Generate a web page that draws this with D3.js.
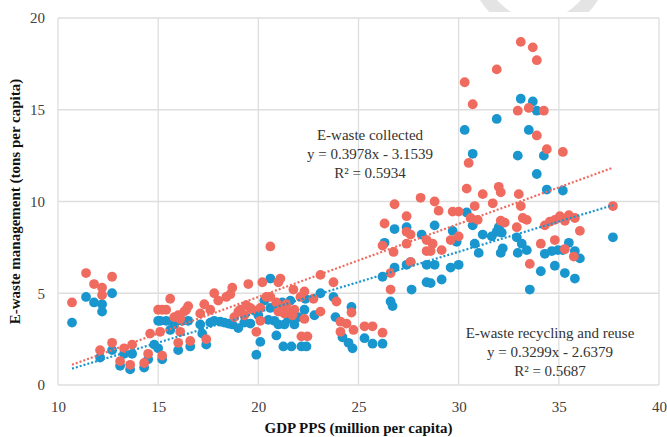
<!DOCTYPE html>
<html>
<head>
<meta charset="utf-8">
<script src="https://cdn.jsdelivr.net/npm/d3@7"></script>
<style>
  body { margin: 0; background: #fff; }
  svg { display: block; }
  svg text { font-family: "Liberation Serif", "Times New Roman", "DejaVu Serif", serif; }
</style>
</head>
<body>
<svg id="chart" width="667" height="437"></svg>
<script>
// GDP PPS (million per capita) vs e-waste (tons per capita)
const collected = [
  [10.7,4.5],[11.4,6.1],[11.8,5.5],[12.2,5.3],[12.2,4.9],[12.7,5.9],[12.1,1.9],[12.7,2.3],[13.1,1.3],[13.3,2.0],[13.6,1.1],[13.7,2.2],
  [14.3,1.2],[14.5,1.7],[14.6,2.8],[15.1,2.9],[15.2,1.6],[15.0,4.1],[15.2,4.1],[15.4,4.1],[15.6,4.7],[15.8,3.7],[16.0,3.8],[16.1,3.6],
  [16.3,4.0],[16.4,4.1],[16.5,4.3],[16.1,2.9],[16.0,2.3],[16.6,2.4],[17.1,3.9],[17.3,4.4],[17.4,2.5],[17.6,4.1],
  [17.8,5.0],[18.0,4.6],[18.4,4.8],[18.6,4.95],[18.7,5.3],[18.8,3.7],[19.0,4.0],[19.1,4.1],[19.3,3.8],[19.4,4.35],[19.5,5.5],[19.7,4.1],
  [19.6,4.2],[19.9,2.9],[20.1,3.5],[20.1,4.2],[20.2,5.6],[20.4,4.8],[20.6,7.55],[20.6,4.8],
  [20.9,4.5],[21.0,5.6],[21.1,5.8],[21.0,4.0],[21.2,4.2],[21.3,3.9],[21.4,4.4],[21.5,4.0],[21.7,3.8],[21.8,4.1],[21.75,5.2],[22.1,4.8],
  [22.15,2.65],[22.45,2.65],[22.3,3.6],[22.3,5.1],
  [22.75,4.7],[23.1,6.0],[23.1,4.0],[23.75,5.6],[23.9,4.55],[24.1,3.45],[24.4,3.35],[24.1,2.9],[24.65,3.95],[24.75,3.0],[25.3,3.2],[25.7,3.2],[26.2,2.85],
  [26.2,7.6],[26.3,8.8],[26.6,6.1],[26.6,5.2],[26.8,9.85],[26.75,7.25],[27.4,9.2],[27.4,8.35],[27.4,7.7],[27.6,8.2],[27.6,6.7],[28.1,10.2],
  [28.4,7.9],[28.4,7.3],[28.6,7.3],[28.7,7.7],[28.8,10.0],[29.0,9.5],[29.15,7.35],[29.6,7.9],[29.7,9.45],[30.0,9.45],[30.0,8.1],
  [30.3,16.5],[30.7,15.3],[30.5,12.1],[30.4,10.7],[30.6,9.1],[30.8,9.75],[30.95,9.0],[31.2,10.4],[31.7,9.9],[31.9,17.2],[32.0,10.8],[32.1,10.5],
  [32.1,8.95],[32.3,8.85],
  [33.1,18.7],[33.7,18.4],[33.9,17.7],[32.95,14.95],[33.5,15.1],[34.25,14.95],[33.9,13.6],[34.4,12.85],[35.2,12.7],[33.0,10.4],[33.1,9.75],
  [32.9,8.6],[33.2,9.1],[33.4,9.0],[33.55,6.6],[34.1,7.7],[34.3,8.7],[34.55,8.9],[34.8,9.0],[34.8,7.9],[35.05,9.2],[35.3,8.95],[35.3,7.4],
  [35.5,9.25],[35.8,9.1],[35.75,7.0],[36.05,8.4],[37.7,9.75]
];

const recycled = [
  [10.7,3.4],[11.4,4.8],[11.8,4.5],[12.2,4.4],[12.2,4.0],[12.7,5.0],[12.1,1.5],[12.7,1.9],[13.1,1.05],[13.3,1.7],[13.6,0.85],[13.7,1.7],
  [14.3,0.95],[14.5,1.4],[14.8,2.2],[15.0,2.0],[15.2,1.4],[15.0,3.5],[15.1,3.5],[15.4,3.5],[15.6,3.0],[15.8,3.3],[16.2,3.5],[16.5,3.5],
  [16.0,1.9],[16.6,2.1],[17.1,3.3],[17.2,2.8],[17.4,2.2],[17.6,3.4],
  [17.8,3.5],[18.1,3.45],[18.3,3.4],[18.5,3.35],[18.7,3.3],[19.0,3.1],[19.3,3.4],[19.6,3.35],[19.9,1.65],[20.0,3.8],[20.1,2.35],[20.3,4.6],
  [20.5,3.55],[20.6,5.8],[20.6,4.2],
  [20.8,3.5],[20.9,2.7],[21.0,3.3],[21.2,4.5],[21.3,3.3],[21.5,3.6],[21.6,4.6],[21.8,3.3],[22.0,3.7],[22.3,4.1],[22.35,4.7],
  [21.25,2.1],[21.65,2.1],[22.15,2.1],[22.4,2.1],
  [22.8,3.8],[23.1,5.0],[23.75,4.8],[23.85,3.7],[24.2,2.6],[24.5,2.3],[24.65,4.25],[24.7,2.0],[25.3,2.55],[25.7,2.25],[26.2,2.25],
  [26.2,5.9],[26.3,7.75],[26.6,4.55],[26.7,4.3],[26.8,8.5],[26.8,6.4],[27.4,8.6],[27.4,6.55],[27.6,6.7],[27.65,5.2],[28.15,8.2],[28.4,6.55],
  [28.8,6.55],[28.4,5.6],[28.6,5.55],[28.8,8.7],[29.15,5.75],[29.6,6.4],[29.7,8.4],[30.0,6.55],[29.9,7.8],
  [30.3,13.9],[30.7,12.6],[30.4,9.4],[30.7,8.7],[30.8,7.7],[31.0,7.2],[31.2,8.2],[31.65,8.1],[31.9,14.5],[31.9,8.35],[32.0,8.6],[32.15,8.3],
  [32.1,7.2],[32.2,7.45],
  [33.1,15.6],[33.7,15.45],[33.9,14.95],[33.5,13.9],[32.95,12.5],[34.25,12.5],[33.9,11.5],[34.4,10.65],[35.2,10.6],[32.9,8.05],[33.15,7.7],
  [33.4,7.35],[32.95,7.2],[33.55,5.2],[34.1,6.2],[34.3,7.15],[34.65,7.3],[34.8,6.5],[34.95,7.35],[35.2,7.35],[35.5,7.75],[35.3,6.1],
  [35.8,7.3],[35.8,5.8],[36.05,6.9],[37.7,8.05]
];

const xTicks = [10, 15, 20, 25, 30, 35, 40];
const yTicks = [0, 5, 10, 15, 20];

// trend lines as printed on the chart
const trends = [
  { name: 'collected', slope: 0.3978, icept: -3.1539, color: '#f06b5f',
    label: ['E-waste collected', 'y = 0.3978x - 3.1539', 'R\u00b2 = 0.5934'] },
  { name: 'recycled', slope: 0.3299, icept: -2.6379, color: '#1a96cf',
    label: ['E-waste recycling and reuse', 'y = 0.3299x - 2.6379', 'R\u00b2 = 0.5687'] }
];

const serif = '"Liberation Serif", "Times New Roman", serif';
const svg = d3.select('#chart');
const margin = { top: 18, right: 8, bottom: 52, left: 58 };
const width = 667, height = 437;

const x = d3.scaleLinear().domain([10, 40]).range([margin.left, width - margin.right]);
const y = d3.scaleLinear().domain([0, 20]).range([height - margin.bottom, margin.top]);

// faint watermark ring peeking above the plot
svg.append('clipPath').attr('id', 'wm').append('rect')
  .attr('x', 0).attr('y', 0).attr('width', width).attr('height', 12);
svg.append('circle')
  .attr('clip-path', 'url(#wm)')
  .attr('cx', 539).attr('cy', -35).attr('r', 61.5)
  .attr('fill', 'none').attr('stroke', '#e4e4e4').attr('stroke-width', 14);

// grid
const grid = svg.append('g').attr('stroke', '#dedede').attr('stroke-width', 1.3);
grid.selectAll('.gx').data(xTicks).enter().append('line')
  .attr('x1', d => x(d)).attr('x2', d => x(d))
  .attr('y1', y(0)).attr('y2', y(20));
grid.selectAll('.gy').data(yTicks).enter().append('line')
  .attr('x1', x(10)).attr('x2', x(40))
  .attr('y1', d => y(d)).attr('y2', d => y(d));

// axes (labels only, lines come from the grid)
const xAxis = svg.append('g')
  .attr('transform', `translate(0,${y(0)})`)
  .call(d3.axisBottom(x).tickValues(xTicks).tickSize(0).tickPadding(16));
const yAxis = svg.append('g')
  .attr('transform', `translate(${x(10)},0)`)
  .call(d3.axisLeft(y).tickValues(yTicks).tickSize(0).tickPadding(13));
[xAxis, yAxis].forEach(g => {
  g.attr('font-family', serif).attr('font-size', 15);
  g.select('.domain').remove();
  g.selectAll('text').attr('fill', '#404040');
});

// points: recycling first, collected on top
const series = [
  { data: recycled, color: '#1a96cf' },
  { data: collected, color: '#f06b5f' }
];
series.forEach(s => {
  svg.append('g')
    .selectAll('circle')
    .data(s.data)
    .enter()
    .append('circle')
    .attr('cx', d => x(d[0]))
    .attr('cy', d => y(d[1]))
    .attr('r', 4.9)
    .attr('fill', s.color);
});

// dotted linear trend lines over the data range
const xMin = d3.min(collected, d => d[0]);
const xMax = d3.max(collected, d => d[0]);
trends.forEach(t => {
  svg.append('line')
    .attr('x1', x(xMin)).attr('y1', y(t.slope * xMin + t.icept))
    .attr('x2', x(xMax)).attr('y2', y(t.slope * xMax + t.icept))
    .attr('stroke', t.color)
    .attr('stroke-width', 2.2)
    .attr('stroke-dasharray', '2 2');
});

// equation labels
const labelPos = [
  { cx: 370, top: 140 },
  { cx: 550, top: 338 }
];
trends.forEach((t, i) => {
  const txt = svg.append('text')
    .attr('text-anchor', 'middle')
    .attr('font-family', serif)
    .attr('font-size', 15)
    .attr('fill', '#333');
  t.label.forEach((line, j) => {
    txt.append('tspan')
      .attr('x', labelPos[i].cx)
      .attr('y', labelPos[i].top + j * 19)
      .text(line);
  });
});

// axis titles
svg.append('text')
  .attr('x', (x(10) + x(40)) / 2)
  .attr('y', 433)
  .attr('text-anchor', 'middle')
  .attr('font-family', serif)
  .attr('font-size', 15)
  .attr('font-weight', 'bold')
  .attr('fill', '#111')
  .text('GDP PPS (million per capita)');

svg.append('text')
  .attr('transform', `translate(20,${(y(0) + y(20)) / 2}) rotate(-90)`)
  .attr('text-anchor', 'middle')
  .attr('font-family', serif)
  .attr('font-size', 15)
  .attr('font-weight', 'bold')
  .attr('fill', '#111')
  .text('E-waste management (tons per capita)');
</script>
</body>
</html>
